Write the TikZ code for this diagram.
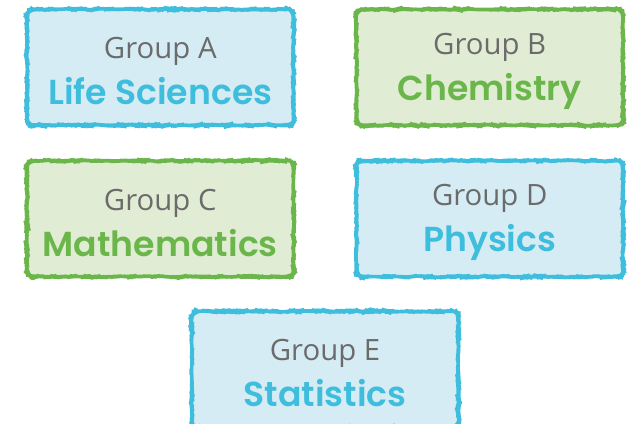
\documentclass[tikz,border=0pt]{standalone}
\usepackage{fontspec}
\setmainfont{Open Sans}
\newfontfamily\subjfont{Poppins SemiBold}
\usepackage{xcolor}
\usetikzlibrary{positioning,decorations.pathmorphing}

\definecolor{skyline}{HTML}{3FBDDC}
\definecolor{skyfill}{HTML}{D5ECF5}
\definecolor{leafline}{HTML}{6BB64A}
\definecolor{leaffill}{HTML}{E1ECD4}
\definecolor{groupgray}{HTML}{6B6B6B}

\newcommand{\grouplabel}[1]{\rule{0pt}{22pt}{\fontsize{22}{24}\selectfont\color{groupgray}#1}}

\begin{document}
\pgfmathsetseed{7}
\begin{tikzpicture}[x=0.75pt,y=-0.75pt,
        groupbox/.style={rectangle,line width=2.6pt,rounded corners=5pt,
            minimum width=200pt,minimum height=87pt,align=center,inner sep=0pt,
            decorate,decoration={random steps,segment length=2.5pt,amplitude=0.5pt}},
        bluebox/.style={groupbox,draw=skyline,fill=skyfill},
        greenbox/.style={groupbox,draw=leafline,fill=leaffill}]
    \useasboundingbox (0,0) rectangle (643,424);
    \matrix (groups) at (325,143) [row sep=22.5pt,column sep=43pt] {
        \node (lifesci) [bluebox]
            {\grouplabel{Group A}\\[8pt]
             {\subjfont\fontsize{26}{30}\selectfont\color{skyline}Life Sciences}};
         &
        \node (chem) [greenbox]
            {\grouplabel{Group B}\\[8pt]
             {\subjfont\fontsize{26}{30}\selectfont\color{leafline}Chemistry}};
        \\
        \node (maths) [greenbox]
            {\grouplabel{Group C}\\[8pt]
             {\subjfont\fontsize{26}{30}\selectfont\color{leafline}Mathematics}};
         &
        \node (phys) [bluebox]
            {\grouplabel{Group D}\\[8pt]
             {\subjfont\fontsize{26}{30}\selectfont\color{skyline}Physics}};
        \\
    };
    \node (stats) [bluebox,below=19pt of groups]
        {\grouplabel{Group E}\\[8pt]
         {\subjfont\fontsize{26}{30}\selectfont\color{skyline}Statistics}};
\end{tikzpicture}
\end{document}
